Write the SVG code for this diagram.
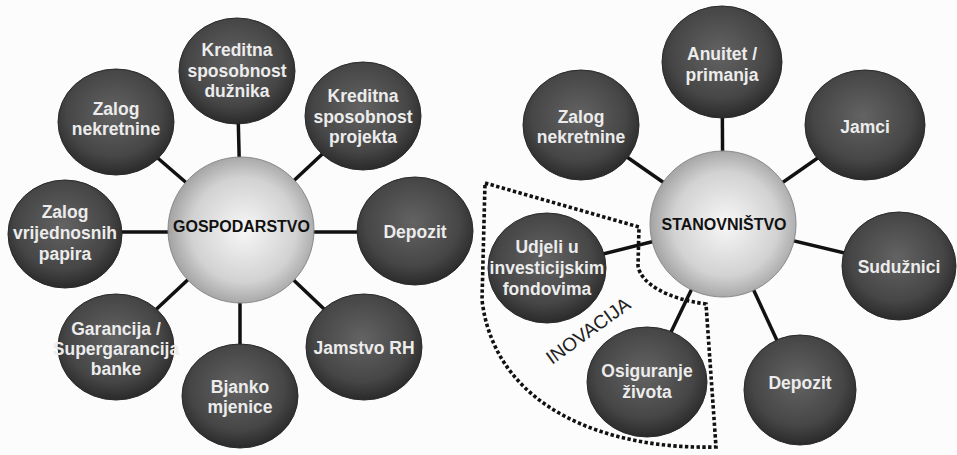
<svg xmlns="http://www.w3.org/2000/svg" width="957" height="455" viewBox="0 0 957 455">
<style>
.bg{fill:#fcfcfc}
.link{stroke:#111;stroke-width:3.5;fill:none}
.outer{fill:url(#gDark);stroke:#2a2a2a;stroke-width:1}
.hub{fill:url(#gLight);stroke:#8a8a8a;stroke-width:1}
.lbl{font-family:"Liberation Sans",Arial,sans-serif;font-weight:bold;font-size:17.5px;fill:#ececec;text-anchor:middle}
.hubl{font-family:"Liberation Sans",Arial,sans-serif;font-weight:bold;font-size:16px;fill:#111;text-anchor:middle}
.zone{fill:none;stroke:#111;stroke-width:3.6;stroke-dasharray:3.4 2.4}
.zonel{font-family:"Liberation Sans",Arial,sans-serif;font-size:19px;fill:#222;text-anchor:middle}
</style>
<defs>
<radialGradient id="gDark" cx="48%" cy="42%" r="58%">
<stop offset="0" stop-color="#636363"/>
<stop offset="0.7" stop-color="#464646"/>
<stop offset="1" stop-color="#2a2a2a"/>
</radialGradient>
<radialGradient id="gLight" cx="52%" cy="50%" r="55%">
<stop offset="0" stop-color="#f7f7f7"/>
<stop offset="0.65" stop-color="#d2d2d2"/>
<stop offset="1" stop-color="#9a9a9a"/>
</radialGradient>
</defs>
<rect class="bg" x="0" y="0" width="957" height="455"/>

<g id="connectors">
<line class="link" x1="241" y1="230" x2="237" y2="71"/>
<line class="link" x1="241" y1="230" x2="116" y2="122"/>
<line class="link" x1="241" y1="230" x2="363" y2="116"/>
<line class="link" x1="241" y1="232" x2="415" y2="232"/>
<line class="link" x1="241" y1="232" x2="65" y2="232"/>
<line class="link" x1="241" y1="230" x2="116" y2="347"/>
<line class="link" x1="240" y1="230" x2="240" y2="396"/>
<line class="link" x1="241" y1="230" x2="364" y2="347"/>
<line class="link" x1="723" y1="224" x2="722" y2="62"/>
<line class="link" x1="723" y1="224" x2="581" y2="125"/>
<line class="link" x1="723" y1="224" x2="865" y2="125"/>
<line class="link" x1="723" y1="224" x2="899" y2="266"/>
<line class="link" x1="723" y1="224" x2="547" y2="268"/>
<line class="link" x1="723" y1="224" x2="647" y2="382"/>
<line class="link" x1="723" y1="224" x2="800" y2="390"/>
</g>

<g id="gospodarstvo">
<circle class="hub" cx="241" cy="230" r="73"/>
<text class="hubl" x="241.5" y="232">GOSPODARSTVO</text>
</g>
<g id="g-kreditna-duznika">
<ellipse class="outer" cx="237" cy="71" rx="58" ry="53"/>
<text class="lbl"><tspan x="237" y="56">Kreditna</tspan><tspan x="237" y="77">sposobnost</tspan><tspan x="237" y="97">dužnika</tspan></text>
</g>
<g id="g-zalog-nekretnine">
<ellipse class="outer" cx="116" cy="122" rx="58" ry="53"/>
<text class="lbl"><tspan x="116" y="115">Zalog</tspan><tspan x="116" y="135">nekretnine</tspan></text>
</g>
<g id="g-kreditna-projekta">
<ellipse class="outer" cx="363" cy="116" rx="58" ry="54"/>
<text class="lbl"><tspan x="363" y="102">Kreditna</tspan><tspan x="363" y="123">sposobnost</tspan><tspan x="363" y="143">projekta</tspan></text>
</g>
<g id="g-depozit">
<ellipse class="outer" cx="415" cy="231" rx="58" ry="54"/>
<text class="lbl" x="415" y="238">Depozit</text>
</g>
<g id="g-zalog-vrijednosnih">
<ellipse class="outer" cx="65" cy="234" rx="57" ry="54"/>
<text class="lbl"><tspan x="65" y="218">Zalog</tspan><tspan x="65" y="239">vrijednosnih</tspan><tspan x="65" y="260">papira</tspan></text>
</g>
<g id="g-garancija">
<ellipse class="outer" cx="116" cy="347" rx="58" ry="53"/>
<text class="lbl"><tspan x="116" y="335">Garancija /</tspan><tspan x="116" y="355">Supergarancija</tspan><tspan x="116" y="375">banke</tspan></text>
</g>
<g id="g-bjanko">
<ellipse class="outer" cx="240" cy="396" rx="58" ry="52"/>
<text class="lbl"><tspan x="240" y="393">Bjanko</tspan><tspan x="240" y="413">mjenice</tspan></text>
</g>
<g id="g-jamstvo">
<ellipse class="outer" cx="364" cy="347" rx="58" ry="53"/>
<text class="lbl" x="364" y="354">Jamstvo RH</text>
</g>

<g id="stanovnistvo">
<circle class="hub" cx="723" cy="224" r="73"/>
<text class="hubl" x="724" y="230">STANOVNIŠTVO</text>
</g>
<g id="s-anuitet">
<ellipse class="outer" cx="722" cy="62" rx="60" ry="56"/>
<text class="lbl"><tspan x="722" y="60">Anuitet /</tspan><tspan x="722" y="81">primanja</tspan></text>
</g>
<g id="s-zalog-nekretnine">
<ellipse class="outer" cx="581" cy="125" rx="58" ry="55"/>
<text class="lbl"><tspan x="581" y="123">Zalog</tspan><tspan x="581" y="143">nekretnine</tspan></text>
</g>
<g id="s-jamci">
<ellipse class="outer" cx="865" cy="125" rx="60" ry="55"/>
<text class="lbl" x="865" y="133">Jamci</text>
</g>
<g id="s-suduznici">
<ellipse class="outer" cx="899" cy="266" rx="57" ry="54"/>
<text class="lbl" x="899" y="273">Sudužnici</text>
</g>
<g id="s-udjeli">
<ellipse class="outer" cx="547" cy="268" rx="59" ry="55"/>
<text class="lbl"><tspan x="547" y="253">Udjeli u</tspan><tspan x="547" y="274">investicijskim</tspan><tspan x="547" y="295">fondovima</tspan></text>
</g>
<g id="s-osiguranje">
<ellipse class="outer" cx="647" cy="382" rx="60" ry="55"/>
<text class="lbl"><tspan x="647" y="377">Osiguranje</tspan><tspan x="647" y="398">života</tspan></text>
</g>
<g id="s-depozit">
<ellipse class="outer" cx="800" cy="390" rx="56" ry="55"/>
<text class="lbl" x="800" y="389">Depozit</text>
</g>

<g id="inovacija">
<path class="zone" d="M485 183 L639 227 L638 266 C641 284 668 299 706 304 L716 447 C610 450 495 410 482 300 Z"/>
<text class="zonel" transform="translate(592 336) rotate(-36)">INOVACIJA</text>
</g>
</svg>
